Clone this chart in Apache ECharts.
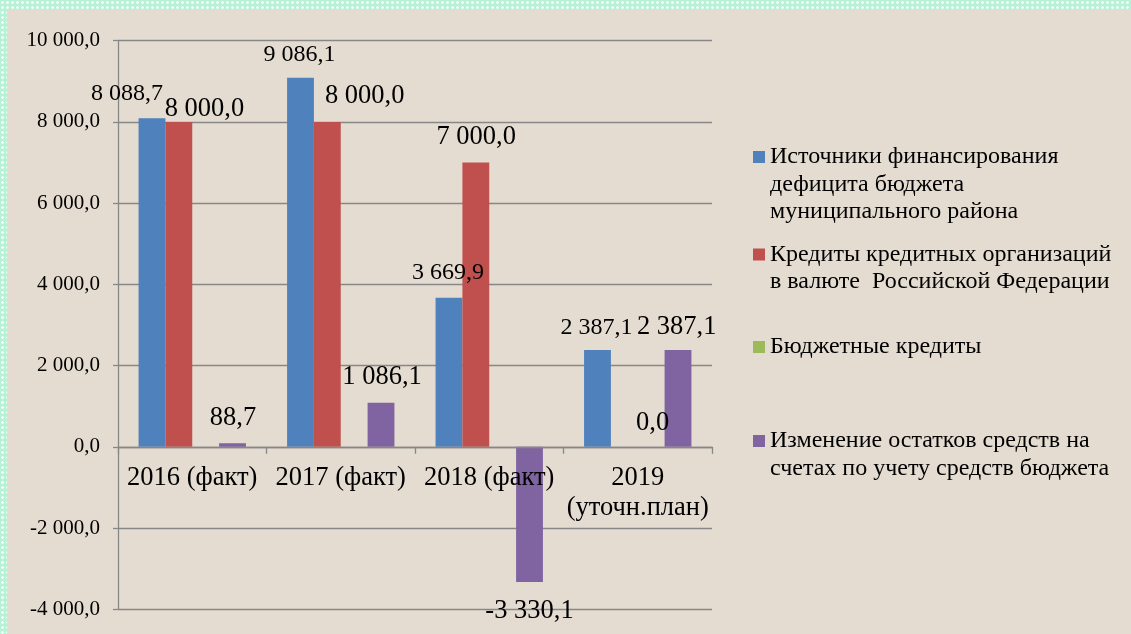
<!DOCTYPE html>
<html>
<head>
<meta charset="utf-8">
<script src="https://cdn.jsdelivr.net/npm/echarts@6/dist/echarts.min.js"></script>
<style>
  html, body { margin: 0; padding: 0; width: 1131px; height: 634px; overflow: hidden; }
  body {
    background-color: #b6f2d6;
    background-image: radial-gradient(circle, rgba(255,255,255,0.85) 1px, transparent 1.6px);
    background-size: 5px 5px;
  }
  #bg { position: absolute; left: 7px; top: 10px; right: 0; bottom: 0; background: #e4dcd1; }
  #chart { position: absolute; left: 0; top: 0; width: 1131px; height: 634px; }
</style>
</head>
<body>
<div id="bg"></div>
<div id="chart"></div>
<script>
// ---- data ----
var categories = ['2016 (факт)', '2017 (факт)', '2018 (факт)', '2019\n(уточн.план)'];
var seriesNames = [
  'Источники финансирования\nдефицита бюджета\nмуниципального района',
  'Кредиты кредитных организаций\nв валюте  Российской Федерации',
  'Бюджетные кредиты',
  'Изменение остатков средств на\nсчетах по учету средств бюджета'
];
var sourcesValues = [8088.7, 9086.1, 3669.9, 2387.1];
var creditOrgValues = [8000.0, 8000.0, 7000.0, null];
var budgetCreditValues = [null, null, null, 0.0];
var balanceChangeValues = [88.7, 1086.1, -3330.1, 2387.1];
var yTicks = { min: -4000, max: 10000, interval: 2000 };

// label placement tweaks (not data)
var labelOffsets = [
  [[-25, -7.5], [-1, -6.3], [-1, -8.3], [-1, -5.4]],
  [[25.6, 5], [37.3, -7.6], [0.4, -7.3], [0, 0]],
  [[0, 0], [0, 0], [0, 0], [1.5, -5.8]],
  [[0.5, -6.6], [1, -7], [0, 10.5], [-1.3, -4.2]]
];
var colors = ['#4f81bd', '#c0504d', '#9bbb59', '#8064a2'];
var labelSizes = [24, 26.5, 26.5, 26.5];
var labelPositions = ['top', 'top', 'top', 'outside'];
var FONT = "'Times New Roman', 'Liberation Serif', serif";

// grid geometry
var GRID = { left: 118, right: 419, top: 40.7, bottom: 24.7 };
var gridHeight = 634 - GRID.top - GRID.bottom;
var zeroFromBottom = (0 - yTicks.min) / (yTicks.max - yTicks.min) * gridHeight;

function fmt(v) {
  var neg = v < 0;
  var s = Math.abs(v).toFixed(1);
  var parts = s.split('.');
  var intPart = parts[0].replace(/\B(?=(\d{3})+(?!\d))/g, ' ');
  return (neg ? '-' : '') + intPart + ',' + parts[1];
}

var allValues = [sourcesValues, creditOrgValues, budgetCreditValues, balanceChangeValues];

var series = allValues.map(function (vals, si) {
  return {
    name: seriesNames[si],
    type: 'bar',
    barGap: '0%',
    barCategoryGap: '27.7%',
    z: 2,
    itemStyle: { color: colors[si] },
    label: {
      show: true,
      position: labelPositions[si],
      distance: 5,
      fontFamily: FONT,
      fontSize: labelSizes[si],
      lineHeight: labelSizes[si],
      color: '#000',
      formatter: function (p) { return p.value == null ? '' : fmt(p.value); }
    },
    data: vals.map(function (v, i) {
      return { value: v, label: { offset: labelOffsets[si][i] } };
    })
  };
});

// legend layout: one legend per item (Excel-style uneven spacing)
var LH = 27.5;
var legendIconCenters = [157, 254.5, 347, 441];
var legends = seriesNames.map(function (name, i) {
  var n = name.split('\n').length;
  var blockH = (2 * n - 1) * LH;
  return {
    data: [name],
    left: 753,
    top: legendIconCenters[i] - blockH / 2,
    orient: 'vertical',
    padding: 0,
    itemWidth: 12,
    itemHeight: 12,
    icon: 'rect',
    selectedMode: false,
    formatter: function (nm) {
      var k = nm.split('\n').length;
      return new Array(k).join('\n') + nm;
    },
    textStyle: {
      fontFamily: FONT,
      fontSize: 24,
      lineHeight: LH,
      color: '#000'
    }
  };
});

var chart = echarts.init(document.getElementById('chart'), null, { renderer: 'canvas' });
chart.setOption({
  backgroundColor: 'transparent',
  animation: false,
  textStyle: { fontFamily: FONT },
  legend: legends,
  grid: { left: GRID.left, right: GRID.right, top: GRID.top, bottom: GRID.bottom, containLabel: false, outerBoundsMode: 'none' },
  xAxis: {
    type: 'category',
    data: categories,
    offset: -zeroFromBottom,
    z: 5,
    axisLine: { show: true, onZero: false, lineStyle: { color: '#878787', width: 1.3 } },
    axisTick: { show: true, length: 7, lineStyle: { color: '#878787', width: 1.3 } },
    axisLabel: {
      fontFamily: FONT, fontSize: 26.5, lineHeight: 30, color: '#000', margin: 16, interval: 0
    },
    splitLine: { show: false }
  },
  yAxis: {
    type: 'value',
    min: yTicks.min, max: yTicks.max, interval: yTicks.interval,
    axisLine: { show: true, lineStyle: { color: '#878787', width: 1.3 } },
    axisTick: { show: true, length: 5, lineStyle: { color: '#878787', width: 1.3 } },
    axisLabel: { fontFamily: FONT, fontSize: 21, color: '#000', margin: 18, formatter: fmt },
    splitLine: { show: true, lineStyle: { color: '#878787', width: 1.3 } }
  },
  series: series
});
</script>
</body>
</html>
